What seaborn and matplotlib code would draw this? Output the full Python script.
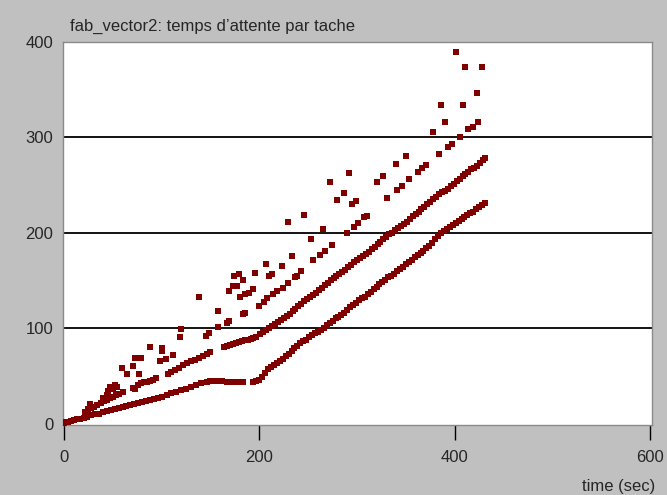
import matplotlib
matplotlib.use("Agg")
import matplotlib.pyplot as plt
import seaborn as sns
import pandas as pd

# ---- data (time in sec, waiting time) ----
lower_band = [
    (0, 1), (2, 1.5), (4, 2), (7, 3), (10, 3.5), (13, 4.5), (16, 5), (20, 6), (24, 7), (28, 8.5),
    (32, 9.5), (36, 10.5), (40, 12), (44, 13), (48, 14.5), (52, 15), (56, 16), (60, 17), (64, 18.5),
    (68, 19.5), (72, 20.5), (76, 21.5), (80, 22.5), (84, 24), (88, 25), (92, 26), (96, 27), (100, 28),
    (105, 30), (110, 31.5), (115, 33), (120, 35), (125, 36.5), (130, 38.5), (135, 40.5), (140, 42),
    (146, 44), (150, 44.5), (154, 45), (158, 45), (162, 44.5), (167, 44), (171, 44), (175, 43.5),
    (179, 43.5), (183, 43), (194, 44), (197, 44.5),
    (200, 46), (203, 49), (206, 53), (209, 57), (212, 59), (215, 61), (218, 63), (221, 65), (224, 68),
    (227, 71), (230, 73), (233, 76), (236, 79), (239, 81), (242, 84), (245, 86), (248, 88), (251, 91),
    (254, 93), (257, 95), (260, 96), (263, 98), (266, 100), (269, 103), (272, 105), (275, 107),
    (278, 110), (281, 112), (284, 114), (287, 116), (290, 119), (293, 122), (296, 124), (299, 126),
    (302, 129), (305, 131), (308, 133), (311, 136), (314, 138), (317, 141), (320, 143), (323, 146),
    (326, 148), (329, 150), (332, 153), (335, 155), (338, 157), (341, 160), (344, 162), (347, 164),
    (350, 167), (353, 169), (356, 171), (359, 174), (362, 176), (365, 179), (368, 181), (371, 184),
    (374, 186), (377, 189), (380, 193), (383, 196), (386, 199), (389, 202), (392, 204), (395, 206),
    (398, 208), (401, 210), (404, 212), (407, 214), (410, 216), (413, 218), (416, 220), (419, 222),
    (422, 225), (425, 227), (428, 229), (431, 231),
]

middle_band = [
    (22, 12), (25, 14), (28, 16), (31, 17), (34, 19), (38, 22), (41, 24), (44, 25), (47, 27), (50, 28),
    (53, 30), (56, 31), (60, 33), (71, 37), (76, 40), (79, 42), (82, 43), (85, 44), (88, 45), (91, 46),
    (94, 48), (107, 52), (110, 54), (114, 56), (118, 58), (122, 61), (126, 63), (130, 65), (134, 67),
    (138, 69), (142, 71), (146, 73), (150, 75), (164, 80), (167, 81), (170, 82), (173, 83), (176, 84),
    (179, 85), (182, 86), (185, 87), (188, 88), (191, 89), (194, 90), (197, 91),
    (201, 94), (204, 96), (207, 98), (210, 100), (213, 102), (216, 104), (219, 106), (222, 108),
    (225, 110), (228, 113), (231, 115), (234, 118), (237, 120), (240, 123), (243, 125), (246, 128),
    (249, 130), (252, 133), (255, 135), (258, 137), (261, 140), (264, 142), (267, 145), (270, 147),
    (273, 150), (276, 152), (279, 155), (282, 157), (285, 159), (288, 161), (291, 164), (294, 166),
    (297, 169), (300, 171), (303, 173), (306, 175), (309, 178), (312, 180), (315, 183), (318, 185),
    (321, 188), (324, 190), (327, 193), (330, 195), (333, 198), (336, 200), (339, 203), (342, 205),
    (345, 207), (348, 209), (351, 211), (354, 214), (357, 217), (360, 219), (363, 222), (366, 225),
    (369, 227), (372, 230), (375, 232), (378, 235), (381, 237), (384, 240), (387, 242), (390, 244),
    (393, 246), (396, 249), (399, 251), (402, 254), (405, 256), (408, 259), (411, 261), (414, 263),
    (417, 266), (420, 268), (423, 270), (426, 273), (429, 276), (431, 278),
]

upper_band = [
    (200, 122.6), (204.8, 126.8), (208, 131), (213.6, 135.5), (218.4, 139), (224.5, 141.7),
    (229.6, 147), (236.5, 153), (239, 155), (243, 160), (255, 171), (262, 176.5), (267, 181),
    (274, 187), (289.5, 200), (297, 205.5), (301, 210), (307, 216), (310.5, 217), (331, 236),
    (341, 244.5), (346.5, 249), (353.5, 256), (362, 263), (367, 268), (371, 270.5), (384, 282),
    (393.5, 290), (397, 293), (405, 300), (414, 308), (419, 310), (424, 316),
]

scattered = [
    (25, 15), (27, 20), (30, 17), (40, 27), (44, 30), (45, 34), (47, 38), (50, 36), (52, 40),
    (54, 38), (59, 58), (65, 52), (71, 60), (77, 52), (73, 69), (79, 69), (88, 80), (98, 65),
    (100, 76), (100, 79), (73, 36), (104, 68), (112, 72),
    (119, 91), (120, 99), (138, 133), (145, 92), (148, 95), (158, 101), (158, 118), (167, 105),
    (169, 107), (183, 115), (185, 116), (169, 139), (173, 144), (177.5, 144), (183, 150),
    (174, 154), (179, 157), (180, 133), (185, 136), (189, 137), (194, 141), (196, 158),
    (207, 167), (210, 155), (213, 157), (223.5, 165), (233, 175.5), (229, 211), (246, 218.6),
    (253, 193), (265.5, 204), (272, 253), (280, 234), (287, 241.6), (294.5, 230), (299, 233),
    (292, 262), (320, 253), (327, 259), (340, 272), (350, 280), (377.5, 305), (386, 333),
    (390, 316), (408.5, 333), (401, 389), (411, 373), (428, 373), (422.5, 346),
]

title = "fab_vector2: temps d\u2019attente par tache"
x_label = "time (sec)"
x_ticks = [0, 200, 400, 600]
y_ticks = [0, 100, 200, 300, 400]
grid_levels = [100, 200, 300]

rows = []
for name, pts in [("lower", lower_band), ("middle", middle_band),
                  ("upper", upper_band), ("scattered", scattered)]:
    for t, w in pts:
        rows.append({"time": t, "wait": w, "group": name})
df = pd.DataFrame(rows)

sns.set_theme(style="white")
plt.rcParams["font.family"] = ["Liberation Sans", "DejaVu Sans"]

W, H = 667, 495
fig = plt.figure(figsize=(W / 100, H / 100), dpi=100, facecolor="#c0c0c0")
ax = fig.add_axes([63 / W, 1 - 425 / H, 589 / W, 383.5 / H])
ax.set_facecolor("white")

for lv in grid_levels:
    ax.axhline(lv, color="black", lw=1.3, zorder=1)

sns.scatterplot(data=df, x="time", y="wait", marker="s", s=13, color="#800000",
                linewidth=0, ax=ax, legend=False, zorder=3)

ax.set_xlim(-1, 602)
ax.set_ylim(-1.5, 400)
ax.set_xticks(x_ticks)
ax.set_yticks(y_ticks)
ax.set_xlabel("")
ax.set_ylabel("")
ax.tick_params(axis="x", direction="out", length=11, width=1, color="black",
               labelsize=12, pad=7, bottom=True)
ax.tick_params(axis="y", length=0, labelsize=12, pad=7, left=False)
for s in ax.spines.values():
    s.set_color("#8a8a8a")
    s.set_linewidth(1)

fig.text(70 / W, 1 - 31 / H, title, ha="left", va="baseline", fontsize=12)
fig.text(655 / W, 1 - 487 / H, x_label, ha="right", va="center", fontsize=12)

fig.savefig("out.png", dpi=100, facecolor=fig.get_facecolor())
